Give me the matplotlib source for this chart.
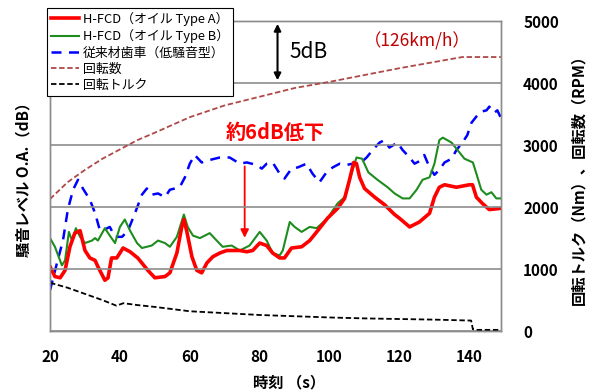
import matplotlib
matplotlib.use("Agg")
import matplotlib.pyplot as plt
from matplotlib.lines import Line2D

plt.rcParams['font.family'] = ['Noto Sans CJK JP', 'DejaVu Sans']

# 騒音レベル (dB, relative scale: 5 dB per grid)
t_a = [20, 21.4, 22.9, 24.3, 25.7, 27.1, 28.6, 30, 31.4, 32.9, 33.7, 35.7, 36.6, 37.6, 39.1,
       40.9, 42.9, 45.1, 48, 50, 52.9, 54.3, 56.3, 57.7, 58.3, 59.1, 60.6, 62, 63.4, 64.9,
       66.6, 68.6, 70.6, 72.3, 74.3, 76.3, 78, 80, 82, 83.7, 85.7, 87.1, 89.1, 92, 94.3,
       96.6, 99.4, 102.3, 104.3, 105.7, 106.9, 107.7, 108.6, 110, 112.9, 115.7, 118.6, 120,
       122.9, 125.7, 128.6, 130, 131.4, 132.9, 136.3, 140, 140.9, 142, 143.7, 145.7, 149]
db_a = [65.2, 64.4, 64.3, 64.9, 66.8, 67.9, 68.1, 66.5, 65.9, 65.7, 65.2, 64.1, 64.3, 65.9, 65.9,
        66.7, 66.4, 65.9, 64.9, 64.3, 64.4, 64.7, 66.3, 68.4, 69.0, 68.1, 66.0, 64.9, 64.7, 65.5,
        66.0, 66.3, 66.5, 66.5, 66.5, 66.4, 66.5, 67.1, 66.9, 66.3, 65.9, 65.9, 66.7, 66.8, 67.3,
        68.1, 69.1, 69.9, 70.7, 72.2, 73.6, 73.5, 72.4, 71.5, 70.8, 70.2, 69.4, 69.1,
        68.4, 68.8, 69.5, 70.8, 71.6, 71.8, 71.6, 71.8, 71.8, 70.8, 70.3, 69.8, 69.9]

t_b = [20, 21.4, 23.4, 24.3, 25.4, 26.3, 27.4, 28.6, 30, 32, 32.9, 33.7, 35.7, 37.1, 38.6,
       40, 41.4, 42.9, 44.9, 46.3, 49.1, 50.9, 52.9, 54.3, 56.3, 58.3, 59.4, 60.9, 62.9,
       65.7, 67.7, 69.4, 72, 74.3, 77.1, 80, 82, 83.7, 85.7, 86.6, 88.6, 90, 92, 94.3, 96.3,
       99.4, 102.3, 104.3, 105.7, 107.7, 109.3, 111.1, 113.7, 116.6, 118.6, 120.9, 122.9,
       124.9, 126.6, 128.6, 130, 131.4, 132.4, 134.9, 136.6, 138.6, 141, 142, 143.4, 144.9,
       146.3, 147.7, 149]
db_b = [67.5, 66.8, 65.3, 65.7, 68.0, 67.3, 68.3, 67.6, 67.1, 67.3, 67.5, 67.3, 68.3, 67.7, 67.1,
        68.4, 69.0, 68.1, 67.1, 66.7, 66.9, 67.3, 67.1, 66.8, 67.6, 69.4, 68.4, 67.7, 67.5,
        67.9, 67.3, 66.8, 66.9, 66.5, 66.9, 68.0, 67.3, 66.3, 66.1, 66.5, 68.8, 68.4, 68.0, 68.4, 68.3,
        69.1, 70.3, 70.8, 72.2, 74.0, 73.9, 72.8, 72.2, 71.6, 71.1, 70.7, 70.7,
        71.4, 72.2, 72.4, 73.5, 75.4, 75.6, 75.2, 74.6, 73.9, 73.6, 72.7, 71.4, 71.0,
        71.2, 70.7, 70.7]

t_c = [20, 22, 23.7, 25.1, 26.6, 28, 29.4, 31.4, 32.9, 34.3, 35.7, 37.1, 38.6, 40.6, 42.3,
       44.3, 46.3, 47.7, 49.1, 50.9, 52.9, 54.3, 57.1, 58.6, 60, 61.4, 63.4, 65.7, 68.6, 71.4,
       74.3, 76.3, 79.1, 80.6, 82, 83.7, 85.7, 87.1, 89.1, 90.9, 93.4, 95.1, 97.1, 99.1,
       100.9, 102.9, 104.9, 106.6, 108.6, 110.6, 112.3, 114.3, 115.7, 117.1, 119.4, 120.9,
       122.9, 124.3, 125.7, 127.1, 128.6, 130, 131.4, 132.9, 134.9, 136.3, 138, 139.4,
       140.6, 142, 143.4, 144.9, 145.7, 147.1, 148, 149]
db_c = [63.3, 65.5, 67.3, 69.8, 71.4, 72.2, 71.5, 70.6, 69.5, 68.1, 68.2, 68.4, 67.6, 67.6, 68.1,
        69.5, 71.0, 71.5, 71.0, 71.1, 70.8, 71.4, 71.6, 72.4, 73.5, 74.2, 73.6, 73.8, 74.0, 74.0,
        73.5, 73.6, 73.4, 73.1, 73.5, 73.6, 72.7, 72.3, 73.1, 73.2, 73.5, 72.7, 72.0, 72.8,
        73.2, 73.5, 73.4, 73.5, 73.5, 74.0, 74.6, 75.2, 75.4, 74.8, 75.2, 74.6,
        74.0, 73.5, 73.7, 74.2, 73.2, 72.6, 73.0, 73.6, 73.9, 74.6, 75.2, 75.8,
        76.8, 77.3, 77.7, 77.8, 78.1, 77.6, 77.8, 77.2]

# 回転数 (RPM)
t_rpm = [20, 25, 30, 35, 40, 45, 50, 60, 70, 80, 90, 100, 110, 120, 130, 138, 149]
rpm = [2130, 2400, 2600, 2780, 2930, 3080, 3200, 3450, 3640, 3780, 3920, 4020, 4130, 4240, 4340, 4420, 4420]

# 回転トルク (Nm)
t_trq = [20, 25, 30, 35, 39, 41, 45, 50, 60, 70, 80, 90, 100, 110, 120, 130, 140.5, 141, 142, 149]
trq = [780, 700, 600, 500, 410, 450, 420, 390, 320, 290, 260, 240, 220, 205, 195, 185, 170, 30, 20, 20]

fig = plt.figure(figsize=(5.92, 3.9), dpi=100)
ax = fig.add_axes([0.0845, 0.151, 0.7615, 0.795])
ax2 = ax.twinx()

ax.plot(t_a, db_a, color='#ff0000', lw=2.6, zorder=5)
ax.plot(t_b, db_b, color='#1e8c1e', lw=1.5, zorder=4)
ax.plot(t_c, db_c, color='#0000ff', lw=1.8, ls=(0, (4, 3)), zorder=3)
ax.set_xlim(20, 149)
ax.set_ylim(60, 85)
ax.set_yticks([60, 65, 70, 75, 80, 85])
ax.set_yticklabels([])
ax.tick_params(axis='both', length=0)

ax2.plot(t_rpm, rpm, color='#b04848', lw=1.3, ls=(0, (3, 1.5)))
ax2.plot(t_trq, trq, color='black', lw=1.3, ls=(0, (3, 1.5)))
ax2.set_ylim(0, 5000)
ax2.set_yticks([0, 1000, 2000, 3000, 4000, 5000])
ax2.tick_params(axis='y', length=0, pad=16, labelsize=11)
for lab in ax2.get_yticklabels():
    lab.set_fontweight('bold')
ax2.grid(axis='y', color='#8c8c8c', lw=1.2)
ax2.set_axisbelow(True)

ax.set_xticks([20, 40, 60, 80, 100, 120, 140])
ax.tick_params(axis='x', labelsize=11, pad=13)
for lab in ax.get_xticklabels():
    lab.set_fontweight('bold')

for a in (ax, ax2):
    for s in a.spines.values():
        s.set_color('#8c8c8c')
        s.set_linewidth(1.0)

ax.set_ylabel('騒音レベル O.A.（dB）', fontsize=11, fontweight='bold', labelpad=10)
ax2.set_ylabel('回転トルク（Nm）、回転数（RPM）', fontsize=11, fontweight='bold', labelpad=8)
ax.set_xlabel('時刻 （s）', fontsize=11, fontweight='bold', labelpad=6)
ax.xaxis.set_label_coords(0.53, -0.14)

# annotations
ax.annotate('', xy=(85.1, 85), xytext=(85.1, 80),
            arrowprops=dict(arrowstyle='<|-|>', color='black', lw=1.5, mutation_scale=10))
ax.text(88.5, 82.5, '5dB', fontsize=15, va='center', ha='left')
ax.text(125, 83.4, '（126km/h）', color='#c00000', fontsize=12.5, va='center', ha='center')
ax.text(84.5, 76.0, '約6dB低下', color='#ff0000', fontsize=14.5, fontweight='bold',
        va='center', ha='center')
ax.annotate('', xy=(75.7, 67.3), xytext=(75.7, 73.5),
            arrowprops=dict(arrowstyle='-|>', color='#ff0000', lw=1.3, mutation_scale=12))

handles = [
    Line2D([], [], color='#ff0000', lw=2.6),
    Line2D([], [], color='#1e8c1e', lw=1.5),
    Line2D([], [], color='#0000ff', lw=1.8, ls=(0, (4, 3))),
    Line2D([], [], color='#b04848', lw=1.3, ls=(0, (3, 1.5))),
    Line2D([], [], color='black', lw=1.3, ls=(0, (3, 1.5))),
]
labels = ['H-FCD（オイル Type A）', 'H-FCD（オイル Type B）', '従来材歯車（低騒音型）', '回転数', '回転トルク']
leg = ax2.legend(handles, labels, loc='upper left', bbox_to_anchor=(47 / 592, 1 - 8 / 390),
                 bbox_transform=fig.transFigure, fontsize=9.3, frameon=True, fancybox=False,
                 framealpha=1, edgecolor='black', handlelength=2.2, handletextpad=0.3,
                 labelspacing=0.25, borderpad=0.3, borderaxespad=0)
leg.get_frame().set_linewidth(0.8)
leg.set_zorder(10)

fig.savefig('out.png', dpi=100)
